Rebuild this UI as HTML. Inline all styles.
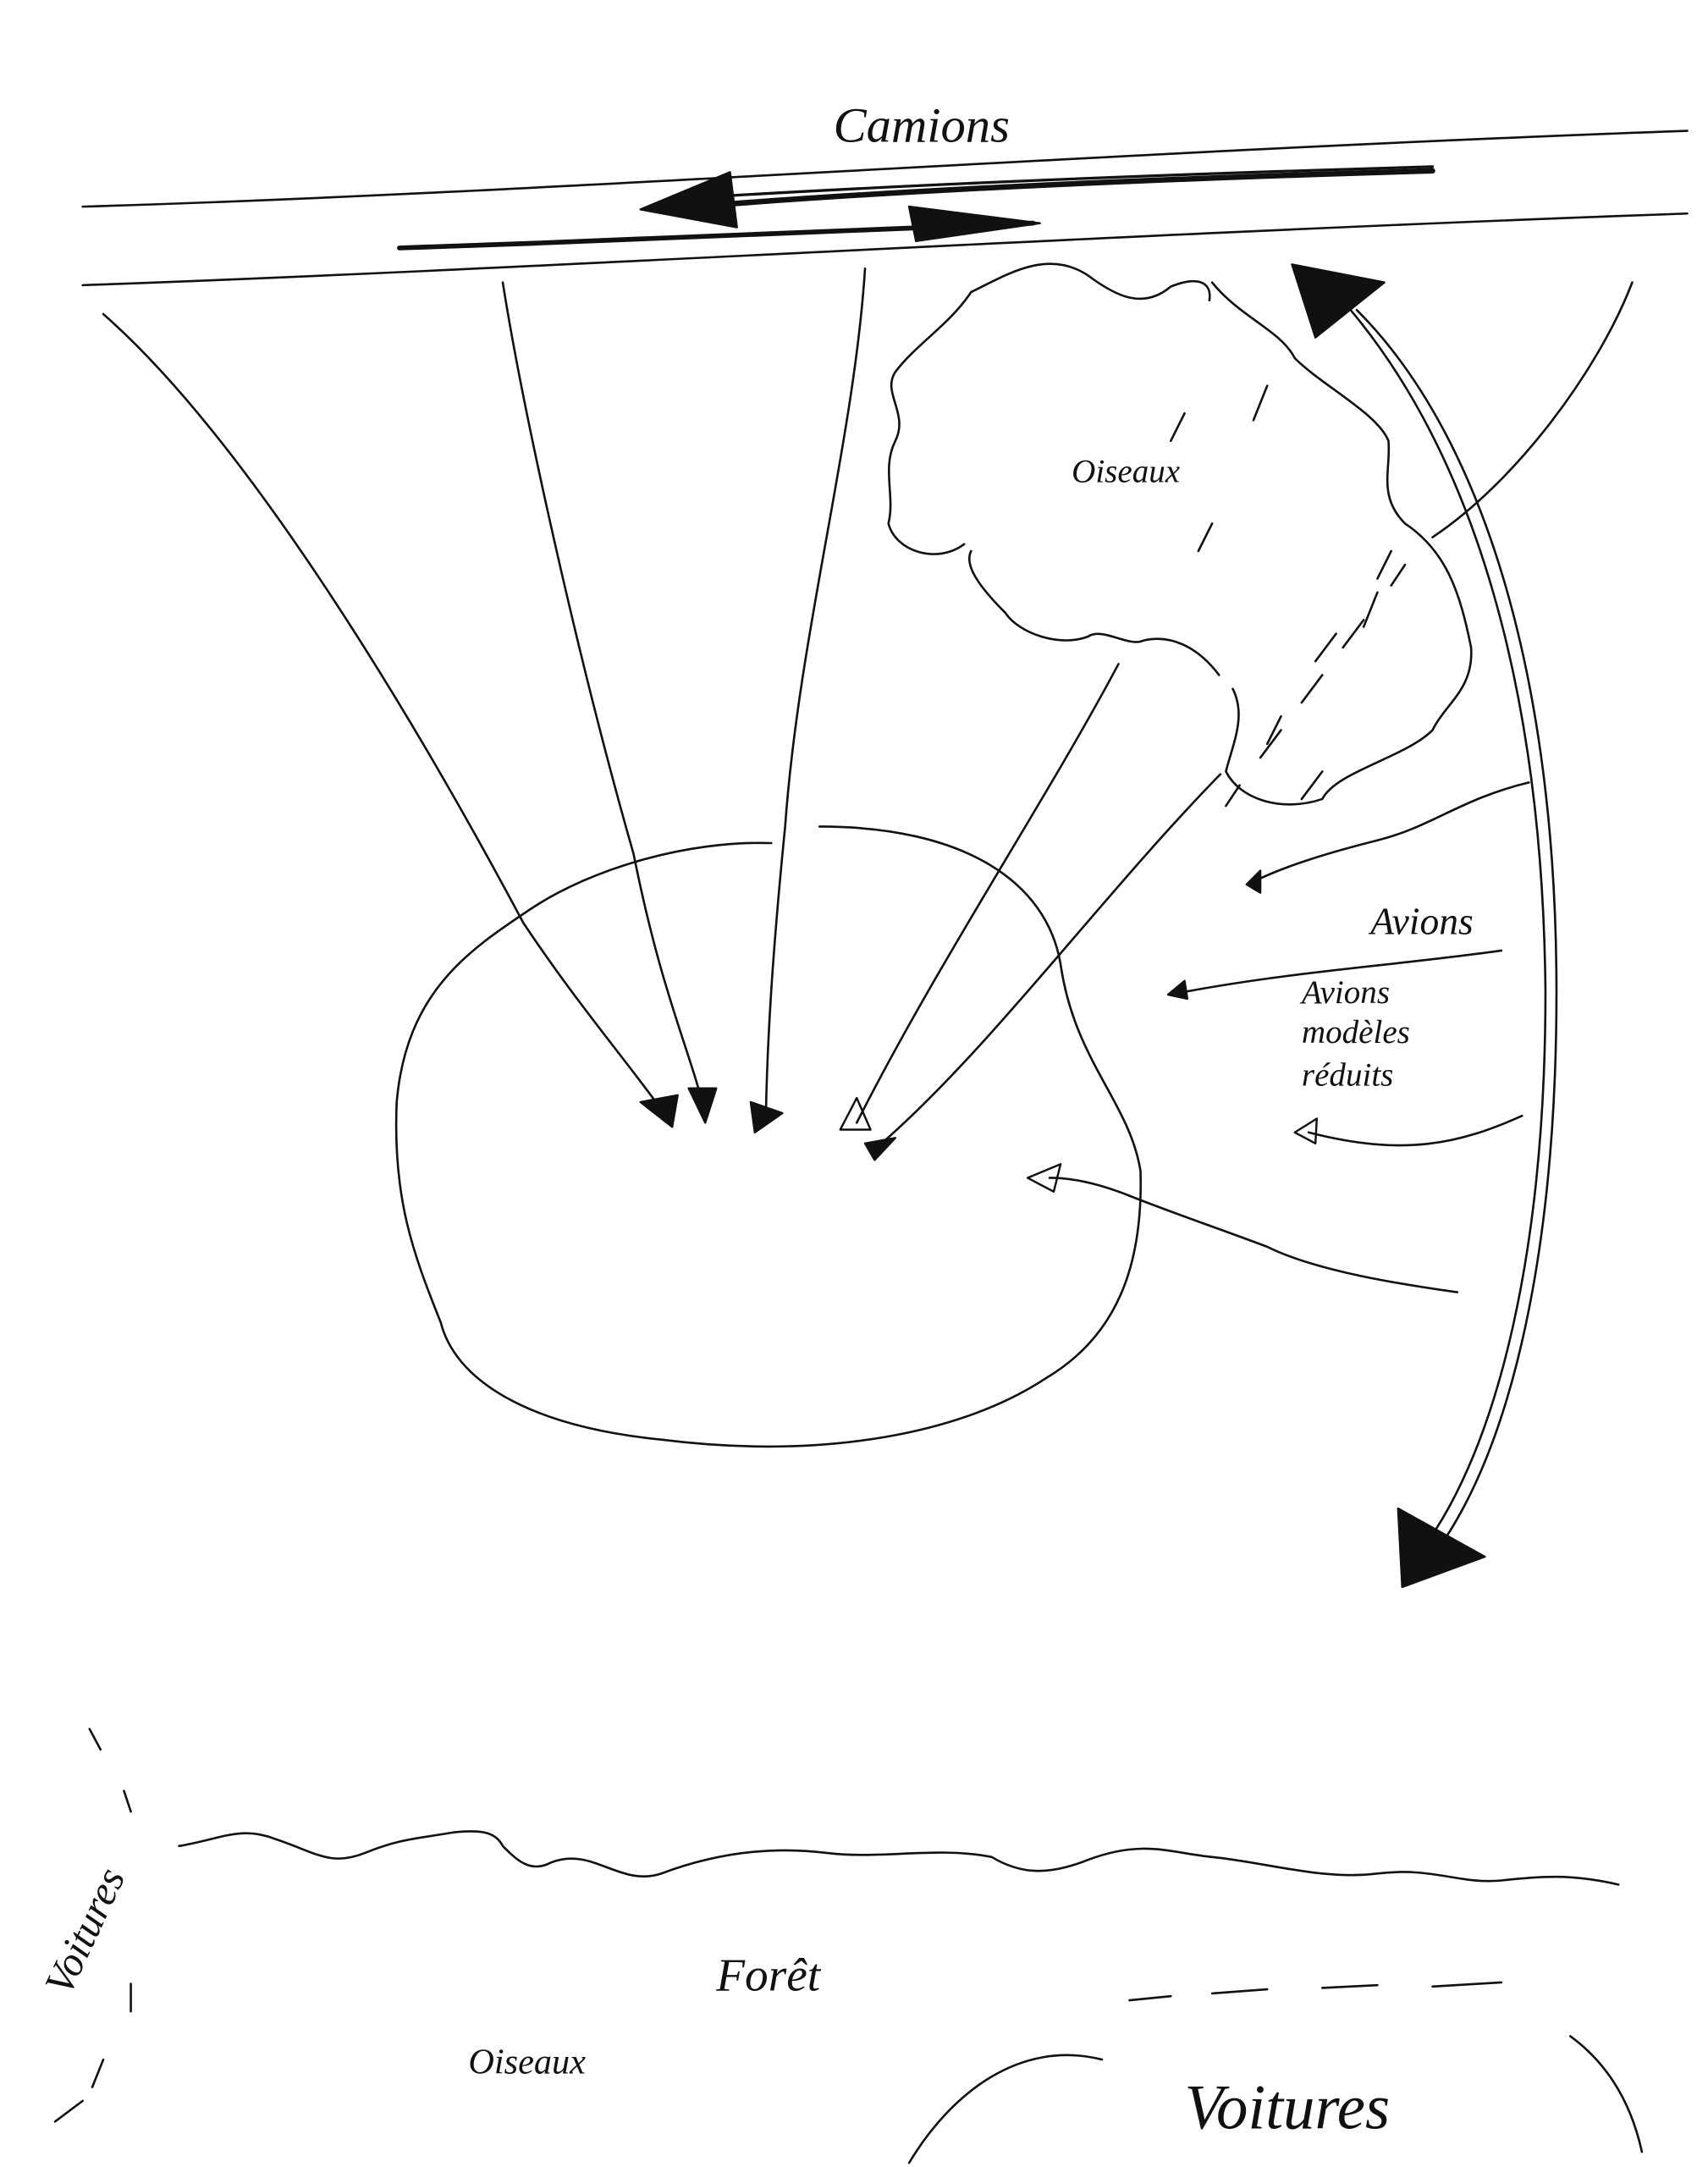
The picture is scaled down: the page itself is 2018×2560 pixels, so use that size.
<!DOCTYPE html>
<html><head><meta charset="utf-8"><style>
html,body{margin:0;padding:0;background:#fff;}
svg{display:block;}
text{font-family:"Liberation Serif",serif;font-style:italic;fill:#111;}
</style></head><body>
<svg width="2018" height="2560" viewBox="0 0 1240 1573" preserveAspectRatio="none" xmlns="http://www.w3.org/2000/svg">
<g fill="none" stroke="#111" stroke-width="1.6" stroke-linecap="round" stroke-linejoin="round">
<!-- road -->
<path d="M60 150 C400 140 800 110 1225 95"/>
<path d="M60 207 C400 195 800 170 1225 155"/>
<!-- truck arrows -->
<path d="M530 148 C700 135 900 128 1040 124" stroke-width="4"/>
<path d="M530 142 C700 132 900 125 1040 121" stroke-width="2"/>
<path d="M290 180 C450 175 620 166 750 162" stroke-width="3.5"/>
<!-- convergence lines -->
<path d="M75 228 C180 320 300 520 380 670 C420 730 455 770 482 808"/>
<path d="M365 205 C380 300 420 480 460 620 C480 720 500 760 512 808"/>
<path d="M628 195 C620 320 580 460 570 600 C560 700 557 760 556 810"/>
<path d="M812 482 C760 580 680 700 622 815"/>
<path d="M886 562 C800 650 720 760 640 830"/>
<!-- cloud -->
<path d="M705 212 C730 200 760 180 790 200 C810 215 830 225 850 208 C870 200 880 205 878 218 M880 205 C900 230 930 240 940 260 C960 280 1000 300 1008 320 C1010 340 1000 360 1020 380 C1050 400 1060 430 1068 470 C1070 500 1050 510 1040 530 C1020 550 970 560 960 580 C930 590 900 580 890 560 C895 540 905 520 895 500 M885 490 C870 470 850 460 830 465 C820 470 800 455 790 462 C770 470 740 460 730 445 C710 425 700 410 705 400 M700 395 C680 410 650 400 645 380 C650 360 640 340 650 320 C660 300 640 285 650 270 C665 250 690 235 705 212"/>
<path d="M860 300 l-10 20 M920 280 l-10 25 M880 380 l-10 20 M1010 400 l-10 20 M1000 430 l-10 25 M970 460 l-15 20 M930 520 l-10 20 M960 560 l-15 20"/>
<!-- dashed line -->
<path d="M1185 205 C1160 270 1100 350 1040 390" />
<path d="M1020 410 l-10 15 M990 450 l-15 20 M960 490 l-15 20 M930 530 l-15 20 M900 570 l-10 15"/>
<!-- ellipse -->
<path d="M595 600 C700 600 760 640 770 700 C780 770 820 800 828 850 C830 920 810 970 760 1000 C700 1040 600 1060 480 1045 C380 1035 330 1000 320 960 C300 910 285 870 288 800 C295 720 340 690 385 660 C430 630 500 610 560 612"/>
<!-- plane arrows -->
<path d="M1110 568 C1060 580 1040 600 1000 610 C960 620 930 630 910 640"/>
<path d="M1090 690 C1020 700 940 705 860 720"/>
<path d="M1105 810 C1060 830 1020 840 950 822"/>
<path d="M1058 938 C1000 930 950 920 920 905 C880 890 850 880 820 868 C800 860 780 855 762 855"/>
<!-- big double arrow -->
<path d="M985 225 C1080 320 1130 500 1130 720 C1130 900 1100 1050 1040 1130"/>
<path d="M978 222 C1070 330 1120 500 1122 720 C1122 900 1090 1050 1030 1128"/>
<!-- bottom wavy -->
<path d="M130 1340 C160 1335 175 1325 200 1335 C230 1345 240 1355 265 1345 C290 1335 300 1335 330 1330 C350 1328 360 1330 365 1340 C375 1350 385 1360 400 1352 C430 1340 450 1370 480 1360 C520 1345 560 1340 600 1345 C640 1350 680 1340 720 1348 C740 1360 760 1362 790 1350 C830 1335 850 1345 880 1348 C920 1352 960 1365 1000 1360 C1040 1355 1060 1368 1090 1365 C1120 1362 1140 1360 1175 1368"/>
<path d="M65 1255 l8 15 M90 1300 l5 15 M95 1440 l0 20 M75 1495 l-8 20 M60 1525 l-20 15"/>
<path d="M820 1452 l30 -3 M880 1447 l40 -3 M960 1443 l40 -2 M1040 1442 l50 -3"/>
<path d="M660 1570 C690 1520 740 1480 800 1495"/>
<path d="M1140 1478 C1170 1500 1185 1530 1192 1562"/>
</g>
<!-- arrowheads -->
<g fill="#111" stroke="#111" stroke-width="1.5" stroke-linejoin="round">
<polygon points="465,152 530,125 535,165"/>
<polygon points="755,162 660,150 665,175"/>
<polygon points="938,192 1005,205 955,245"/>
<polygon points="1015,1095 1078,1130 1018,1152"/>
<polygon points="465,800 492,795 488,818"/>
<polygon points="500,790 520,790 512,815"/>
<polygon points="545,800 568,808 548,822"/>
<polygon points="610,820 622,797 632,820" fill="none"/>
<polygon points="628,830 650,826 635,842"/>
<polygon points="905,642 915,632 915,648"/>
<polygon points="848,722 860,712 862,725"/>
<polygon points="940,822 956,812 955,830" fill="none"/>
<polygon points="746,855 770,845 765,865" fill="none"/>
</g>
<text x="605" y="103" font-size="36">Camions</text>
<text x="778" y="350" font-size="24">Oiseaux</text>
<text x="995" y="678" font-size="28">Avions</text>
<text x="945" y="728" font-size="24">Avions</text>
<text x="945" y="757" font-size="24">modèles</text>
<text x="945" y="788" font-size="24">réduits</text>
<text x="520" y="1445" font-size="34">Forêt</text>
<text x="340" y="1505" font-size="26">Oiseaux</text>
<text x="860" y="1545" font-size="46">Voitures</text>
<text font-size="30" transform="translate(50,1450) rotate(-65)">Voitures</text>
</svg>
</body></html>
